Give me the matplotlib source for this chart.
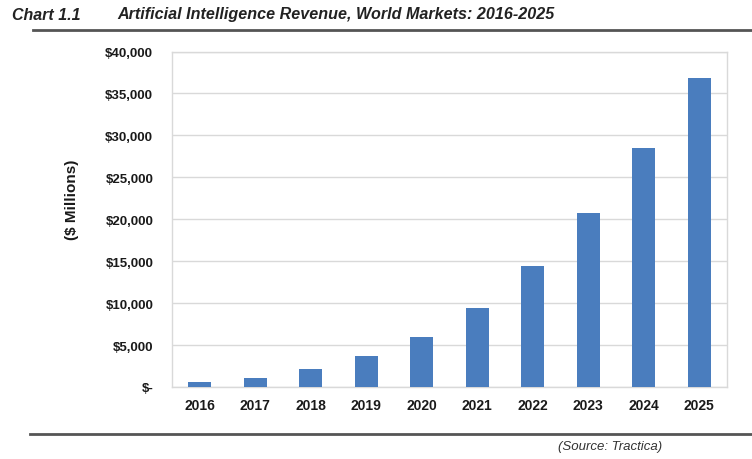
import matplotlib
matplotlib.use("Agg")
import matplotlib.pyplot as plt
from matplotlib.ticker import FuncFormatter
from matplotlib.lines import Line2D

years = ["2016", "2017", "2018", "2019", "2020", "2021", "2022", "2023", "2024", "2025"]
revenue = [600, 1100, 2100, 3650, 5950, 9450, 14400, 20750, 28450, 36850]
yticks = [0, 5000, 10000, 15000, 20000, 25000, 30000, 35000, 40000]

plt.rcParams['font.family'] = ['Liberation Sans', 'DejaVu Sans']

W, H = 752, 460
fig = plt.figure(figsize=(W / 100, H / 100), dpi=100)
fig.patch.set_facecolor("white")

ax = fig.add_axes([172 / W, 1 - 388 / H, (727 - 172) / W, (388 - 52.5) / H])
x = range(len(years))
ax.bar(x, revenue, width=0.41, color="#4A7DBE", zorder=3)
ax.set_xlim(-0.5, len(years) - 0.5)
ax.set_ylim(0, 40000)
ax.set_yticks(yticks)

def fmt(v, pos):
    if v == 0:
        return "$-"
    return "${:,.0f}".format(v)

ax.yaxis.set_major_formatter(FuncFormatter(fmt))
ax.set_xticks(list(x))
ax.set_xticklabels(years)
ax.grid(axis="y", color="#d9d9d9", linewidth=1.0, zorder=0)
for s in ax.spines.values():
    s.set_color("#d9d9d9")
    s.set_linewidth(1.0)
ax.tick_params(axis="both", length=0)
ax.tick_params(axis="y", pad=13.5, labelsize=9.5)
ax.tick_params(axis="x", pad=8, labelsize=10)
for lbl in ax.get_xticklabels() + ax.get_yticklabels():
    lbl.set_fontweight("bold")
    lbl.set_color("#1a1a1a")

fig.text(72 / W, 1 - 200 / H, "($ Millions)", rotation=90, ha="center", va="center",
         fontsize=11, fontweight="bold", color="#1a1a1a")

fig.text(12 / W, 1 - 15 / H, "Chart 1.1", ha="left", va="center", fontsize=11.5,
         fontweight="bold", fontstyle="italic", color="#222222")
fig.text(117 / W, 1 - 15 / H, "Artificial Intelligence Revenue, World Markets: 2016-2025",
         ha="left", va="center", fontsize=11.6, fontweight="bold", fontstyle="italic",
         color="#222222")

fig.add_artist(Line2D([33 / W, 1.0], [1 - 31 / H, 1 - 31 / H], transform=fig.transFigure,
                      color="#555555", linewidth=2.0))
fig.add_artist(Line2D([30 / W, 1.0], [1 - 435 / H, 1 - 435 / H], transform=fig.transFigure,
                      color="#555555", linewidth=2.0))

fig.text(662 / W, 1 - 447 / H, "(Source: Tractica)", ha="right", va="center",
         fontsize=9.5, fontstyle="italic", color="#333333")

fig.savefig("out.png", dpi=100, facecolor="white")
